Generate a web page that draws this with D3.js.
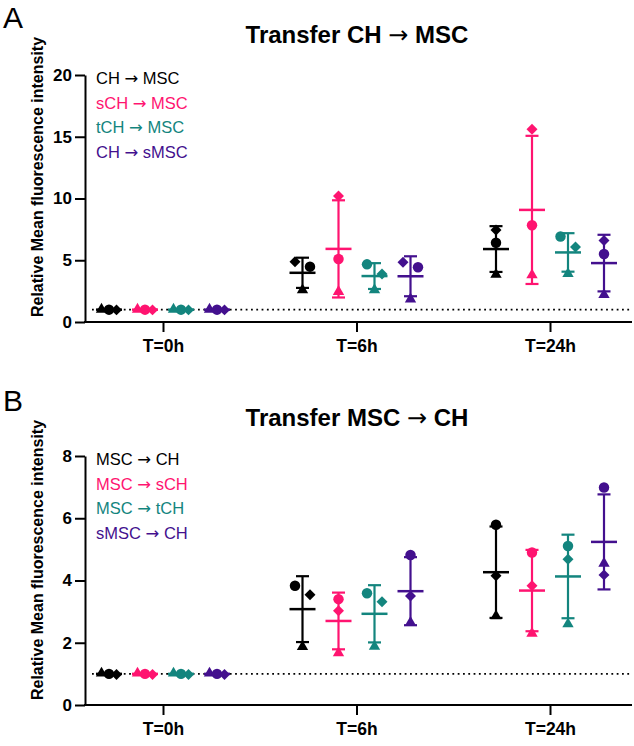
<!DOCTYPE html>
<html>
<head>
<meta charset="utf-8">
<script src="https://cdn.jsdelivr.net/npm/d3@7"></script>
<style>
  body { margin: 0; background: #fff; }
  text { font-family: "Liberation Sans", Arial, sans-serif; }
  .arrow { font-family: "DejaVu Sans", sans-serif; font-weight: normal; }
</style>
</head>
<body>
<div id="chart"></div>
<script>
const timepoints = ["T=0h", "T=6h", "T=24h"];
const seriesA = ["CH \u2192 MSC", "sCH \u2192 MSC", "tCH \u2192 MSC", "CH \u2192 sMSC"];
const seriesB = ["MSC \u2192 CH", "MSC \u2192 sCH", "MSC \u2192 tCH", "sMSC \u2192 CH"];
const seriesColors = ["#000000", "#ff1470", "#13857e", "#43108e"];
const markerShapes = ["circle", "diamond", "triangle"];

// one row per series, one entry per timepoint: [circle, diamond, triangle]
const valuesA = [
  [[1.0, 0.98, 1.02], [4.48, 4.88, 2.59], [6.42, 7.45, 3.85]],
  [[1.0, 0.98, 1.02], [5.10, 10.2, 2.46], [7.83, 15.6, 3.8]],
  [[1.0, 0.98, 1.02], [4.67, 3.89, 2.6], [6.92, 6.08, 3.9]],
  [[1.0, 0.98, 1.02], [4.43, 4.83, 1.85], [5.51, 6.6, 2.2]]
];
const valuesB = [
  [[1.0, 0.98, 1.02], [3.83, 3.54, 1.87], [5.79, 4.15, 2.86]],
  [[1.0, 0.98, 1.02], [3.40, 3.03, 1.67], [4.90, 3.83, 2.30]],
  [[1.0, 0.98, 1.02], [3.59, 3.32, 1.88], [5.11, 4.68, 2.6]],
  [[1.0, 0.98, 1.02], [4.82, 3.5, 2.65], [6.99, 4.18, 4.55]]
];
const yTicksA = [0, 5, 10, 15, 20];
const yTicksB = [0, 2, 4, 6, 8];
const baseline = 1;

const width = 634;
const height = 746;

const svg = d3
  .select("#chart")
  .append("svg")
  .attr("width", width)
  .attr("height", height);

const x = d3.scalePoint().domain(timepoints).range([163, 550]);
const xSeries = d3.scalePoint().domain(d3.range(4)).range([-54, 54]);

const symbols = {
  circle: d3.symbol().type(d3.symbolCircle).size(86),
  diamond: d3.symbol().type(d3.symbolSquare).size(60),
  triangle: d3.symbol().type(d3.symbolTriangle).size(56),
};

// write "a → b" with the arrow in a font that has a proper long arrow
function arrowText(sel, label) {
  const parts = label.split("\u2192");
  sel.append("tspan").text(parts[0]);
  sel.append("tspan").attr("class", "arrow").text("\u2192");
  sel.append("tspan").text(parts[1]);
}

function drawPanel(opts) {
  const g = svg.append("g");
  const y = d3.scaleLinear().domain([0, opts.yMax]).range([opts.bottom, opts.top]);

  // panel letter
  g.append("text")
    .attr("x", 3)
    .attr("y", opts.bottom - 294)
    .attr("font-size", 30)
    .text(opts.letter);

  // title
  g.append("text")
    .attr("x", 357)
    .attr("y", opts.bottom - 279)
    .attr("text-anchor", "middle")
    .attr("font-size", 24)
    .attr("font-weight", "bold")
    .call(arrowText, opts.title);

  // y label
  g.append("text")
    .attr("transform", "translate(43," + (opts.bottom - 145) + ") rotate(-90)")
    .attr("text-anchor", "middle")
    .attr("font-size", 16)
    .attr("font-weight", "bold")
    .text("Relative Mean fluorescence intensity");

  // dotted reference line at 1
  g.append("line")
    .attr("x1", 92)
    .attr("x2", 632)
    .attr("y1", y(baseline))
    .attr("y2", y(baseline))
    .attr("stroke", "#000")
    .attr("stroke-width", 1.8)
    .attr("stroke-dasharray", "1.8 3.5");

  // y axis
  const yAxis = g.append("g")
    .attr("transform", "translate(85,0)")
    .call(d3.axisLeft(y).tickValues(opts.ticks).tickSize(10).tickSizeOuter(0).tickPadding(3));
  yAxis.selectAll("path, line").attr("stroke-width", 2);
  yAxis.selectAll("text")
    .attr("font-size", 17)
    .attr("font-weight", "bold")
    .attr("fill", "#000")
    .style("font-family", '"Liberation Sans", Arial, sans-serif');

  // x axis
  const xAxis = g.append("g")
    .attr("transform", "translate(0," + opts.bottom + ")")
    .call(d3.axisBottom(x).tickSize(10).tickSizeOuter(0).tickPadding(8));
  xAxis.select(".domain").remove();
  xAxis.selectAll("line").attr("stroke-width", 2);
  xAxis.selectAll("text")
    .attr("font-size", 17.5)
    .attr("font-weight", "bold")
    .attr("fill", "#000")
    .style("font-family", '"Liberation Sans", Arial, sans-serif');
  g.append("line")
    .attr("x1", 84)
    .attr("x2", 632)
    .attr("y1", opts.bottom)
    .attr("y2", opts.bottom)
    .attr("stroke", "#000")
    .attr("stroke-width", 2);

  // legend
  g.append("g")
    .selectAll("text")
    .data(opts.series)
    .join("text")
    .attr("x", 96)
    .attr("y", (d, i) => opts.top + 9 + i * 24.5)
    .attr("font-size", 16.5)
    .attr("fill", (d, i) => seriesColors[i])
    .each(function (d) {
      arrowText(d3.select(this), d);
    });

  // groups: mean + SD bars, then points
  opts.values.forEach((row, si) => {
    row.forEach((vals, ti) => {
      const cx = x(timepoints[ti]) + xSeries(si);
      const color = seriesColors[si];
      const mean = d3.mean(vals);
      const sd = d3.deviation(vals);

      const bar = g.append("g").attr("stroke", color).attr("stroke-width", 2.2);
      bar.append("line")
        .attr("x1", cx).attr("x2", cx)
        .attr("y1", y(mean - sd)).attr("y2", y(mean + sd));
      [mean - sd, mean + sd].forEach((v) => {
        bar.append("line")
          .attr("x1", cx - 6.5).attr("x2", cx + 6.5)
          .attr("y1", y(v)).attr("y2", y(v));
      });
      bar.append("line")
        .attr("x1", cx - 13).attr("x2", cx + 13)
        .attr("y1", y(mean)).attr("y2", y(mean))
        .attr("stroke-width", 2.5);

      // spread points that overlap
      const pts = vals
        .map((v, k) => ({ v: v, shape: markerShapes[k] }))
        .sort((a, b) => b.v - a.v);
      const clusters = [];
      pts.forEach((p, k) => {
        if (k > 0 && y(p.v) - y(pts[k - 1].v) < 11) {
          clusters[clusters.length - 1].push(p);
        } else {
          clusters.push([p]);
        }
      });
      clusters.forEach((c) => {
        c.forEach((p, k) => {
          p.dx = c.length > 1 ? -7.5 + (k * 15) / (c.length - 1) : 0;
        });
      });

      g.append("g")
        .selectAll("path")
        .data(pts)
        .join("path")
        .attr("d", (d) => symbols[d.shape]())
        .attr("transform", (d) =>
          "translate(" + (cx + d.dx) + "," + y(d.v) + ")" + (d.shape === "diamond" ? " rotate(45)" : "")
        )
        .attr("fill", color);
    });
  });
}

drawPanel({
  letter: "A",
  title: "Transfer CH \u2192 MSC",
  series: seriesA,
  values: valuesA,
  yMax: 20,
  ticks: yTicksA,
  top: 75,
  bottom: 322,
});

drawPanel({
  letter: "B",
  title: "Transfer MSC \u2192 CH",
  series: seriesB,
  values: valuesB,
  yMax: 8,
  ticks: yTicksB,
  top: 456,
  bottom: 705,
});
</script>
</body>
</html>
